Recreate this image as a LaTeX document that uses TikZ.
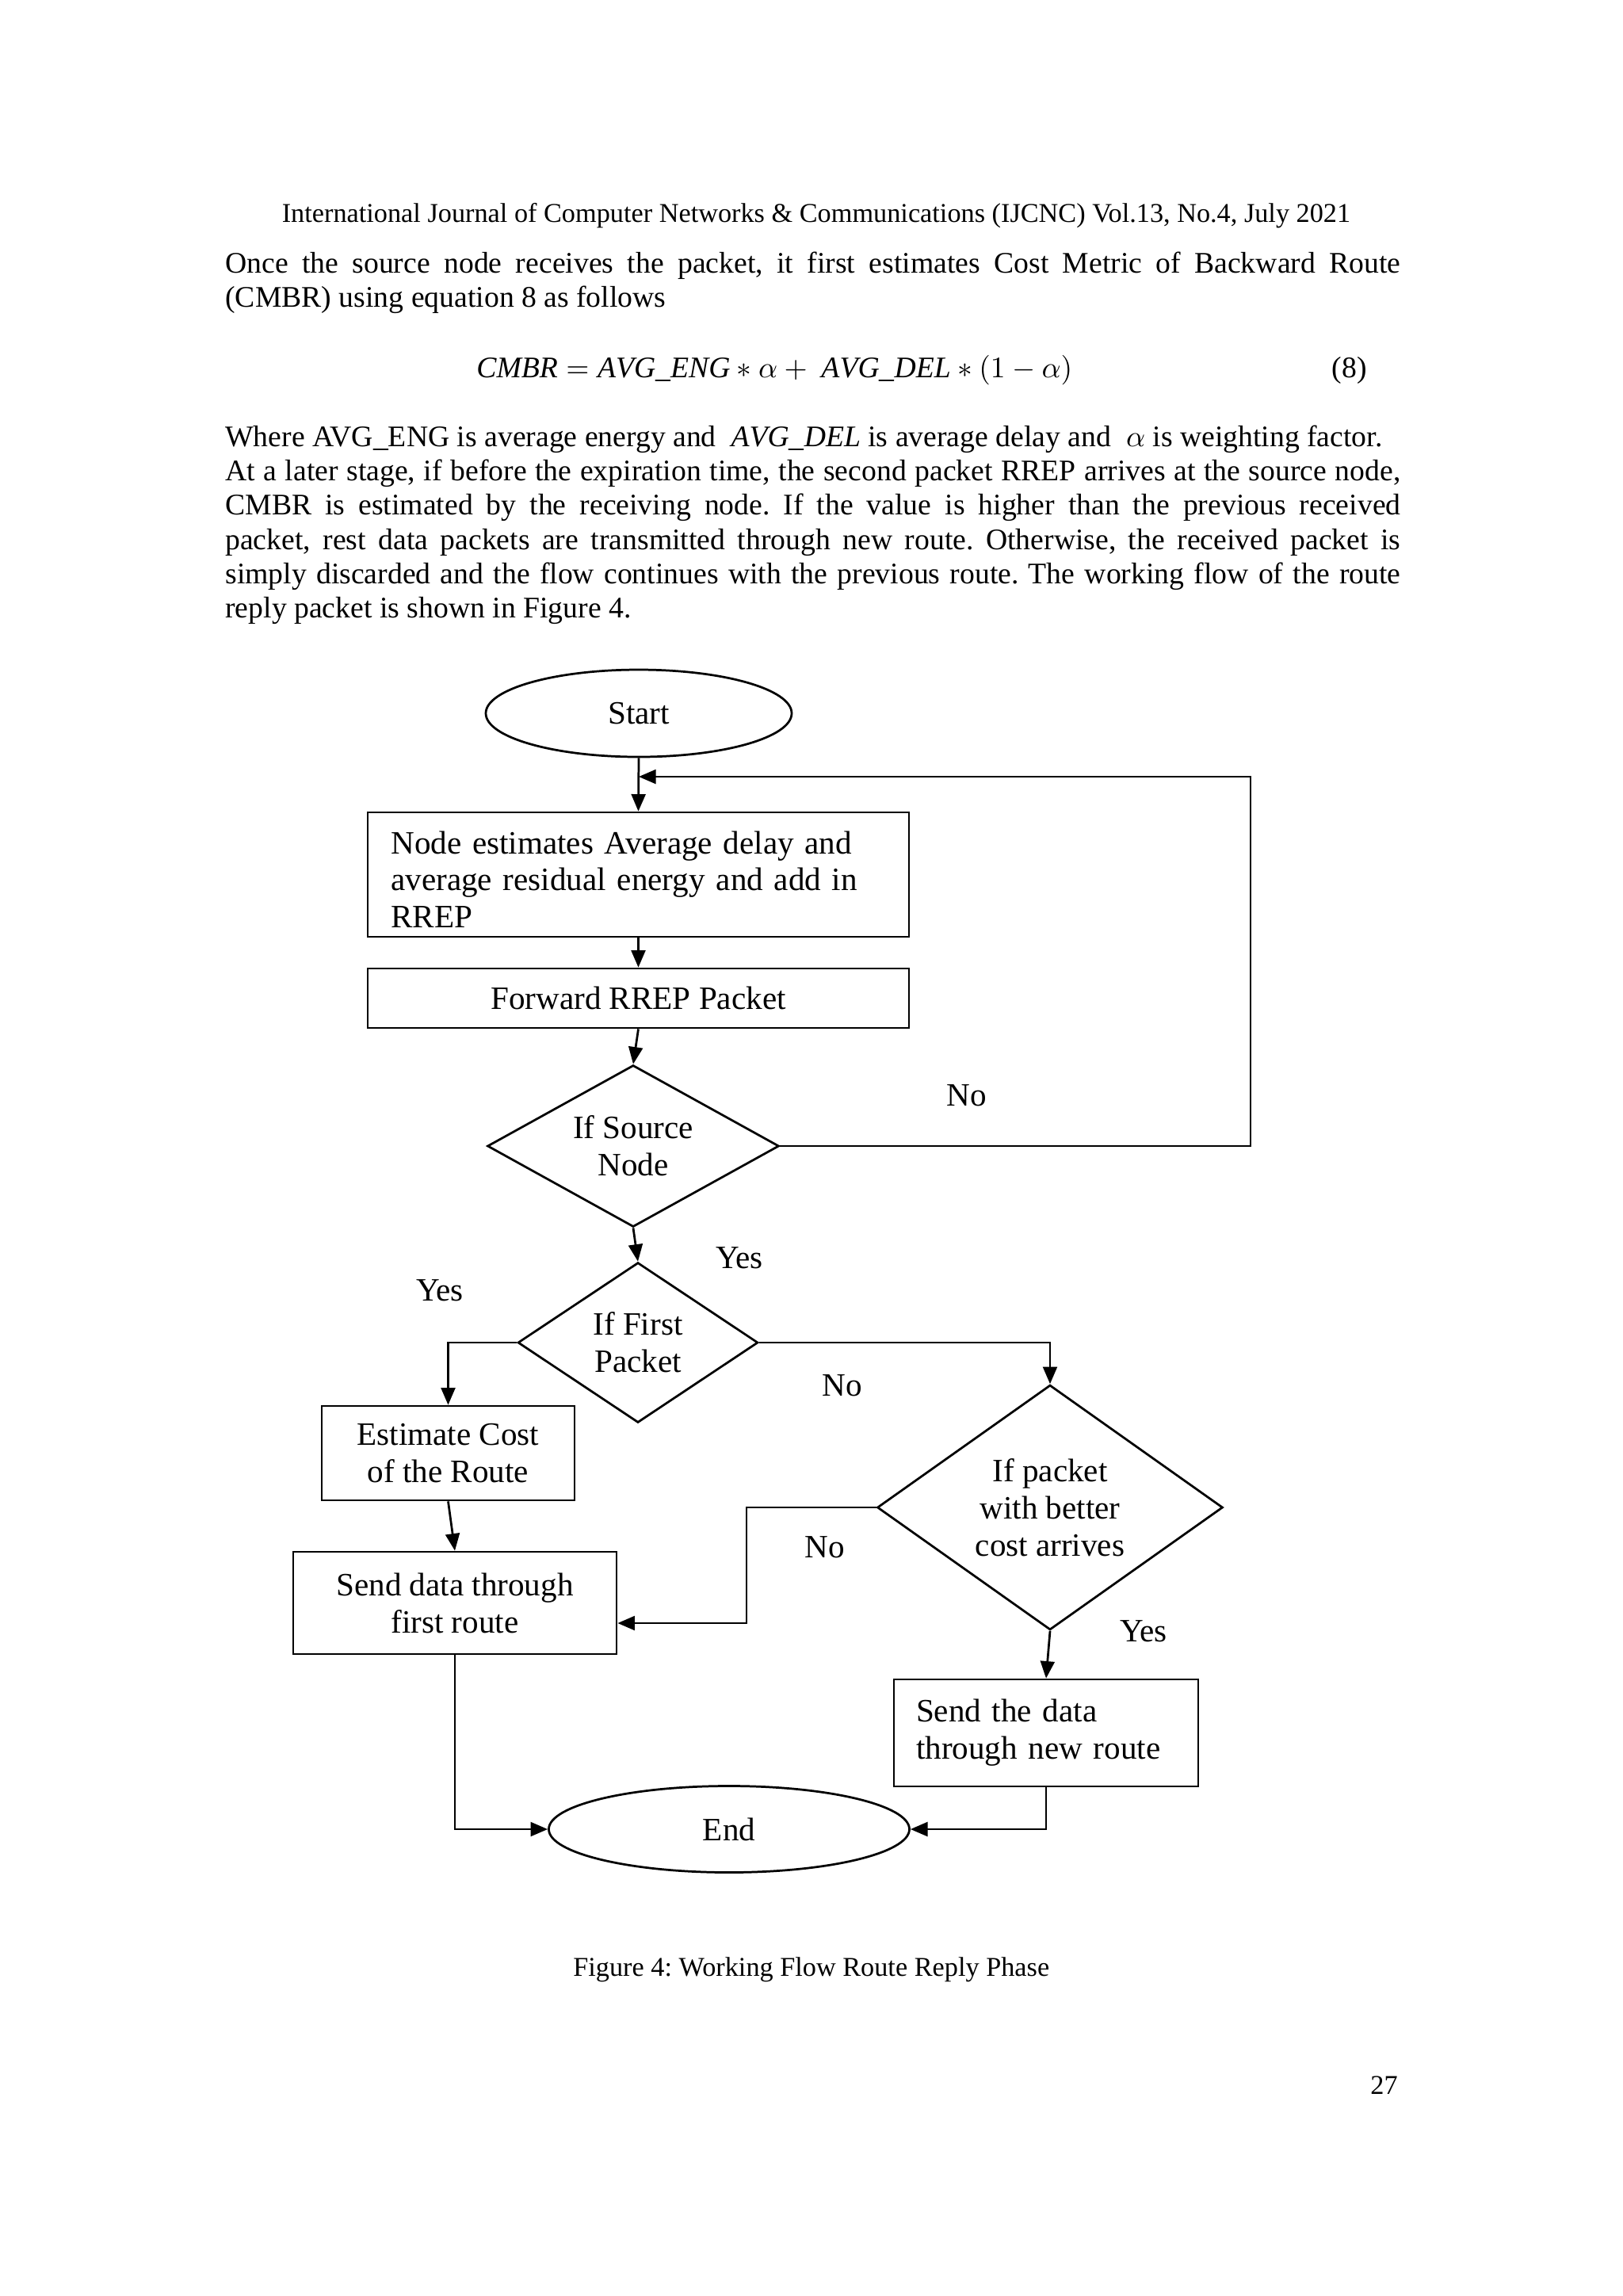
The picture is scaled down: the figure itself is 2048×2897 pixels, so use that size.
\documentclass[tikz,border=0pt]{standalone}
\usepackage{fontspec}
\setmainfont{Liberation Serif}
\usetikzlibrary{shapes.geometric,arrows.meta}
\frenchspacing

\begin{document}
\begin{tikzpicture}[x=0.010254cm,y=-0.010254cm,
                    >={Triangle[length=6.3pt,width=5.2pt]},line width=0.8pt,
                    every node/.style={font=\fontsize{12}{13.7}\selectfont},
                    process/.style={draw,rectangle,inner sep=0pt,align=center},
                    decision/.style={draw,diamond,inner sep=0pt,align=center},
                    terminal/.style={draw,ellipse,inner sep=0pt},
                    lbl/.style={inner sep=0pt},
                    body/.style={font=\fontsize{11}{12.65}\selectfont,inner sep=0pt}]
% page
\useasboundingbox (0,0) rectangle (2048,2897);
\fill[white] (0,0) rectangle (2048,2897);

% text of the page
\node[body,font=\fontsize{10}{12}\selectfont,anchor=base] (head) at (1030,280)
  {International Journal of Computer Networks \& Communications (IJCNC) Vol.13, No.4, July 2021};
\node[body,anchor=base west,text width=15.207cm,align=justify] (par1) at (283,344)
  {Once the source node receives the packet, it first estimates Cost Metric of Backward Route\linebreak
   (CMBR) using equation 8 as follows};
\node[body,anchor=base west] (eq) at (600,476)
  {$\mathit{CMBR} = \mathit{AVG\_ENG} \ast \alpha +\ \mathit{AVG\_DEL} \ast (1 - \alpha)$};
\node[body,anchor=base east] (eqno) at (1726,476) {(8)};
\node[body,anchor=base west,text width=15.207cm,align=justify] (par2) at (283,563)
  {Where AVG\_ENG is average energy and \ $\mathit{AVG\_DEL}$ is average delay and \ $\alpha$ is weighting factor.\\
   At a later stage, if before the expiration time, the second packet RREP arrives at the source node,\linebreak
   CMBR is estimated by the receiving node. If the value is higher than the previous received\linebreak
   packet, rest data packets are transmitted through new route. Otherwise, the received packet is\linebreak
   simply discarded and the flow continues with the previous route. The working flow of the route\linebreak
   reply packet is shown in Figure 4.};
\node[body,font=\fontsize{10}{12}\selectfont,anchor=base west] (cap) at (722,2493)
  {Figure 4: Working Flow Route Reply Phase};
\node[body,font=\fontsize{10}{12}\selectfont,anchor=base east] (pgno) at (1765,2642) {27};

% flow chart
\node[terminal,minimum width=3.958cm,minimum height=1.128cm] (start) at (806,900) {Start};
\node[process,minimum width=7.004cm,minimum height=1.610cm] (est) at (805.5,1103.5) {};
\begin{scope}
  \clip (est.north west) rectangle ([yshift=0.14cm]est.south east);
  \node[lbl,anchor=base west,text width=6.43cm,align=left] (esttext) at (492,1077)
    {Node estimates Average delay and\\average residual energy and add in\\RREP};
\end{scope}
\node[process,minimum width=7.004cm,minimum height=0.769cm] (fwd) at (805.5,1259.5) {Forward RREP Packet};
\node[decision,shape aspect=1.8,minimum width=3.773cm,minimum height=2.092cm] (src) at (799,1446)
  {If Source\\Node};
\node[decision,shape aspect=1.5,minimum width=3.107cm,minimum height=2.071cm] (first) at (805,1694)
  {If First\\Packet};
\node[decision,shape aspect=1.41,minimum width=4.471cm,minimum height=3.168cm] (better) at (1325,1902)
  {If packet\\with better\\cost arrives};
\node[process,minimum width=3.271cm,minimum height=1.220cm] (cost) at (565.5,1833.5)
  {Estimate Cost\\of the Route};
\node[process,minimum width=4.184cm,minimum height=1.323cm] (oldroute) at (574,2022.5)
  {Send data through\\first route};
\node[process,minimum width=3.938cm,minimum height=1.384cm,text width=3.363cm,inner xsep=0.287cm,
      align=left] (newroute) at (1320,2186.5) {Send the data\\through new route};
\node[terminal,minimum width=4.666cm,minimum height=1.118cm] (end) at (920,2308) {End};

% branch labels
\node[lbl] (no1) at (1220,1382) {No};
\node[lbl] (yes1) at (933,1587) {Yes};
\node[lbl] (yes2) at (555,1628) {Yes};
\node[lbl] (no2) at (1063,1748) {No};
\node[lbl] (no3) at (1041,1952) {No};
\node[lbl] (yes3) at (1443,2058) {Yes};

% connectors
\coordinate (merge) at (806,980);
\coordinate (loopc) at (1578,980);
\coordinate (back) at (942,2048);
\draw[->] (start.south) -- (est.north);
\draw[->] (est.south) -- (fwd.north);
\draw[->] (fwd.south) -- (src.north);
\draw[->] (src.east) -| (loopc) -- (merge);
\draw[->] (src.south) -- (first.north);
\draw[->] (first.west) -| (cost.north);
\draw[->] (first.east) -| (better.north);
\draw[->] (cost.south) -- (oldroute.north);
\draw[->] (better.west) -| (back) -- (oldroute.east |- back);
\draw[->] (better.south) -- (newroute.north);
\draw[->] (oldroute.south) |- (end.west);
\draw[->] (newroute.south) |- (end.east);
\end{tikzpicture}
\end{document}
